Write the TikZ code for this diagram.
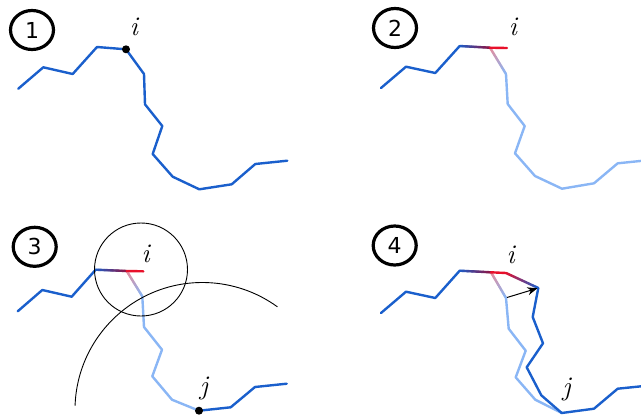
\documentclass[tikz,border=0pt]{standalone}
\usepackage{fontspec}
\newfontfamily\numfont{DejaVu Sans}
\usetikzlibrary{calc,arrows.meta,shapes.geometric}
\definecolor{blueM}{RGB}{26,95,204}
\definecolor{lightB}{RGB}{138,182,245}
\definecolor{redC}{RGB}{232,16,42}
\definecolor{pinkC}{RGB}{234,140,152}
\definecolor{maroonC}{RGB}{140,22,70}
\tikzset{
  bline/.style={line width=2.4pt, draw=blueM, line join=round, line cap=round},
  lline/.style={line width=2.4pt, draw=lightB, line join=round, line cap=round},
  rline/.style={line width=2.4pt, draw=redC, line join=round, line cap=round},
  numcirc/.style={draw, ellipse, line width=3.2pt, minimum width=43pt, minimum height=39pt, inner sep=0pt, font=\numfont\fontsize{22}{24}\selectfont},
  lbl/.style={inner sep=0pt, font=\fontsize{27}{29}\selectfont\itshape},
  ptdot/.style={circle, fill=black, inner sep=0pt, minimum size=8pt},
  thinc/.style={draw=black, line width=0.9pt},
}
\newcommand\gseg[4]{%
  \foreach \k in {0,...,23}{%
    \pgfmathsetmacro\ta{\k/24}%
    \pgfmathsetmacro\tb{(\k+1)/24}%
    \pgfmathtruncatemacro\pc{100-(\k+0.5)*100/24}%
    \draw[line width=2.4pt, line cap=round, draw=#3!\pc!#4] ($(#1)!\ta!(#2)$) -- ($(#1)!\tb!(#2)$);
  }}
\begin{document}
\begin{tikzpicture}[x=1pt,y=-1pt]
\useasboundingbox (0,0) rectangle (641,416);
% ---------- panel 1
\coordinate (a1) at (18.3,88.7); \coordinate (b1) at (43.3,67.3); \coordinate (c1) at (72.7,74);
\coordinate (d1) at (97,47); \coordinate (i1) at (126,49.3); \coordinate (e1) at (144,74);
\coordinate (f1) at (145,104.3); \coordinate (g1) at (162.3,126); \coordinate (h1) at (152.7,154);
\coordinate (k1) at (172.7,176.7); \coordinate (l1) at (199.3,189.3); \coordinate (m1) at (231.7,184.3);
\coordinate (n1) at (255.3,164); \coordinate (o1) at (287.3,160.7);
\draw[bline] (a1)--(b1)--(c1)--(d1)--(i1)--(e1)--(f1)--(g1)--(h1)--(k1)--(l1)--(m1)--(n1)--(o1);
\node[ptdot] (di1) at (i1) {};
\node[lbl] (li1) at (134,27) {i};
\node[numcirc] (c1n) at (32,30) {1};
% ---------- panel 2
\coordinate (a2) at (381,88); \coordinate (b2) at (406,66.7); \coordinate (c2) at (435.3,73);
\coordinate (d2) at (459.7,46); \coordinate (i2) at (490,47.7); \coordinate (t2) at (507,48);
\coordinate (e2) at (506,74); \coordinate (f2) at (507.7,104); \coordinate (g2) at (524.7,126);
\coordinate (h2) at (515,153.3); \coordinate (k2) at (535,176); \coordinate (l2) at (562,188.7);
\coordinate (m2) at (594,183.3); \coordinate (n2) at (617.7,163.3); \coordinate (o2) at (650,160);
\draw[lline] (e2)--(f2)--(g2)--(h2)--(k2)--(l2)--(m2)--(n2)--(o2);
\gseg{i2}{e2}{pinkC}{lightB}
\draw[bline] (a2)--(b2)--(c2)--(d2);
\gseg{d2}{i2}{blueM}{maroonC}
\draw[rline] (i2)--(t2);
\node[lbl] (li2) at (513,27) {i};
\node[numcirc] (c2n) at (395,28) {2};
% ---------- panel 3
\coordinate (a3) at (17.7,311.3); \coordinate (b3) at (42.3,290); \coordinate (c3) at (71.7,296.7);
\coordinate (d3) at (95.7,269.7); \coordinate (i3) at (126.7,271); \coordinate (t3) at (143.3,271.3);
\coordinate (e3) at (142.3,296.3); \coordinate (f3) at (144,327); \coordinate (g3) at (162,349.7);
\coordinate (h3) at (152.3,376.3); \coordinate (k3) at (172,399.7); \coordinate (j3) at (199,410.7);
\coordinate (m3) at (230.7,407.3); \coordinate (n3) at (255,387); \coordinate (o3) at (286.7,383.7);
\coordinate (cc3) at (141,269.5); \coordinate (ac3) at (202.5,410);
\draw[lline] (e3)--(f3)--(g3)--(h3)--(k3)--(j3);
\gseg{i3}{e3}{pinkC}{lightB}
\draw[bline] (a3)--(b3)--(c3)--(d3);
\draw[bline] (j3)--(m3)--(n3)--(o3);
\gseg{d3}{i3}{blueM}{maroonC}
\draw[rline] (i3)--(t3);
\draw[thinc] (cc3) circle[radius=46.5];
\draw[thinc] (ac3) ++(-178:127.5) arc[start angle=-178, end angle=-54, radius=127.5];
\node[ptdot] (dj3) at (j3) {};
\node[lbl] (li3) at (145.7,253.7) {i};
\node[lbl] (lj3) at (204,388) {j};
\node[numcirc] (c3n) at (34.7,246.8) {3};
% ---------- panel 4
\coordinate (a4) at (381,313); \coordinate (b4) at (406,291.7); \coordinate (c4) at (435.3,298);
\coordinate (d4) at (459.7,270.7); \coordinate (i4) at (491,272.3); \coordinate (t4) at (506,273);
\coordinate (u4) at (538.3,288);
\coordinate (p4) at (532.7,317); \coordinate (q4) at (543,343.3); \coordinate (r4) at (526.7,367.3);
\coordinate (s4) at (541.3,395.3); \coordinate (j4) at (561.7,413);
\coordinate (m4) at (594,408.7); \coordinate (n4) at (617.7,388.7); \coordinate (o4) at (650,385.4);
\coordinate (e4) at (506,298); \coordinate (f4) at (508.7,328.7); \coordinate (g4) at (525.7,350.7);
\coordinate (h4) at (515.7,377.3); \coordinate (k4) at (535.3,399.7);
\coordinate (e4s) at (507,297.5);
\draw[lline] (e4)--(f4)--(g4)--(h4)--(k4)--(j4);
\gseg{i4}{e4}{pinkC}{lightB}
\draw[bline] (u4)--(p4)--(q4)--(r4)--(s4)--(j4)--(m4)--(n4)--(o4);
\draw[bline] (a4)--(b4)--(c4)--(d4);
\gseg{d4}{i4}{blueM}{maroonC}
\draw[rline] (i4)--(t4);
\gseg{t4}{u4}{redC}{blueM}
\draw[-{Stealth[length=10pt,width=8pt]}, line width=1pt, shorten >=1pt] (e4s) -- (u4);
\node[lbl] (li4) at (510.7,254.7) {i};
\node[lbl] (lj4) at (566.7,389.7) {j};
\node[numcirc] (c4n) at (394.7,245.5) {4};
\end{tikzpicture}
\end{document}
